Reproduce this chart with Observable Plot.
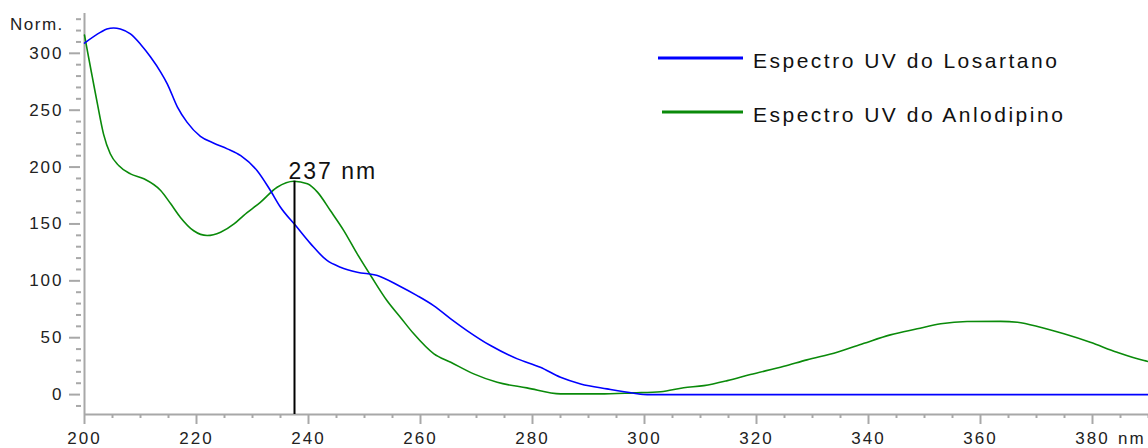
<!DOCTYPE html>
<html><head><meta charset="utf-8">
<script src="https://cdn.jsdelivr.net/npm/d3@7"></script>
<script src="https://cdn.jsdelivr.net/npm/@observablehq/plot@0.6"></script>
<style>
html,body{margin:0;padding:0;background:#fff;}
#chart svg{display:block;}
</style></head><body><div id="chart"></div>
<script>
// ---- data ----
const losartanNm  = [200, 202.9, 204, 205.2, 206.4, 208.2, 210, 211.8, 213.6, 214.8, 216.6, 218.3, 220.7, 223.1, 225.5, 227.9, 230.8, 233.2, 235, 237.7, 240.4, 243.3, 245.7, 248.7, 252.3, 256.4, 259.4, 262.4, 265.4, 268.3, 272.5, 277.3, 281.4, 285, 288.6, 293.3, 298.1, 300.5, 390];
const losartanAbs = [309, 318.6, 321.4, 322.2, 321.3, 317, 308, 296.7, 283.5, 273, 252.7, 239.5, 227, 221, 216, 210, 197, 179.4, 164.7, 148.6, 132.5, 117.9, 112, 107.6, 104.7, 95, 87, 78, 66.6, 56.3, 43.1, 31.4, 24, 15.2, 9.4, 5, 1.2, 0, 0];
const anlodipinoNm  = [200, 200.5, 201.4, 202.3, 203.4, 204.6, 206.1, 208.2, 210.6, 213.6, 215.4, 217.1, 219.5, 221.9, 224.3, 226.7, 228.4, 231.4, 234.4, 237.4, 239.8, 241.6, 243.9, 246.3, 248.7, 251.1, 254, 256.4, 258.8, 262.4, 265.4, 269.5, 273.7, 279, 285, 292, 298, 302.9, 307, 310.6, 314.8, 318.9, 324.9, 329, 334.4, 339.2, 343.9, 348.7, 352.9, 357.6, 363.6, 366.6, 370.7, 374.9, 379.6, 384.4, 389.2, 390];
const anlodipinoAbs = [316, 302.5, 279, 255.7, 229, 211.7, 201.4, 194, 189.7, 179.4, 167.7, 156, 144, 139.8, 142.7, 150, 157.4, 169, 182.3, 187.6, 185.3, 178, 161.8, 144.2, 123.7, 104.7, 82.7, 68, 53.4, 35.8, 28.4, 18.2, 10.8, 5.9, 0.6, 0.6, 1.5, 2.5, 6, 7.9, 12.3, 17.6, 24.9, 30.5, 37.2, 45.1, 52.5, 57.8, 62.2, 64.2, 64.4, 63.6, 59.2, 53.4, 46, 37.2, 29.9, 29];
const seriesNames  = ["Espectro UV do Losartano", "Espectro UV do Anlodipino"];
const seriesColors = ["#0000ff", "#0a8a0a"];
const xMajorTicks = [200, 220, 240, 260, 280, 300, 320, 340, 360, 380];
const yMajorTicks = [0, 50, 100, 150, 200, 250, 300];
const peakNm = [237.5];
const peakAbs = [187.6];
const peakLabels = ["237 nm"];
const yAxisTitle = "Norm.";
const xUnit = "nm";

// ---- derived tables ----
const losartan = losartanNm.map((nm, i) => ({nm, v: losartanAbs[i]}));
const anlodipino = anlodipinoNm.map((nm, i) => ({nm, v: anlodipinoAbs[i]}));
const peaks = peakNm.map((nm, i) => ({nm, v: peakAbs[i], label: peakLabels[i]}));
const xDomain = [200, 390];
const yDomain = [-17.5, 335];
const xMinorTicks = d3.range(205, 391, 5).filter(t => t % 20 !== 0);
const yMinorTicks = d3.range(-10, 331, 10).filter(t => t % 50 !== 0);

const gray = "#a8a8a8";
const font = "'Liberation Sans', Arial, sans-serif";

const chart = Plot.plot({
  width: 1148, height: 448,
  marginLeft: 84, marginRight: 0, marginTop: 13, marginBottom: 34,
  x: {domain: xDomain},
  y: {domain: yDomain},
  style: {fontFamily: font, fontSize: "17px", color: "#222", background: "#fff", overflow: "visible"},
  marks: [
    Plot.axisY(yMinorTicks, {tickSize: 5, dx: -3, tickFormat: () => "", stroke: gray, strokeWidth: 2, label: null}),
    Plot.axisY(yMajorTicks, {tickSize: 11, dx: -4, tickPadding: 6, stroke: gray, strokeWidth: 2, label: null, fill: "#222", fontSize: 17}),
    Plot.axisX(xMinorTicks, {tickSize: 4, tickFormat: () => "", stroke: gray, strokeWidth: 2, label: null}),
    Plot.axisX(xMajorTicks, {tickSize: 10, tickPadding: 7, stroke: gray, strokeWidth: 2, label: null, fill: "#222", fontSize: 17}),
    Plot.ruleX([xDomain[0]], {stroke: gray, strokeWidth: 2}),
    Plot.ruleY([yDomain[0]], {stroke: gray, strokeWidth: 2}),
    Plot.line(anlodipino, {x: "nm", y: "v", stroke: seriesColors[1], strokeWidth: 1.6, curve: "monotone-x"}),
    Plot.line(losartan, {x: "nm", y: "v", stroke: seriesColors[0], strokeWidth: 1.6, curve: "monotone-x"}),
    Plot.ruleX(peaks, {x: "nm", y1: () => yDomain[0], y2: "v", stroke: "#000", strokeWidth: 2}),
    Plot.text(peaks, {x: "nm", y: "v", text: "label", textAnchor: "start", lineAnchor: "bottom", dx: -6, dy: -2, fontSize: 23, fill: "#111"})
  ]
});

const svg = d3.select(chart);
svg.selectAll("g[aria-label='y-axis tick label'] text, g[aria-label='x-axis tick label'] text").style("letter-spacing", "2px");
svg.selectAll("g[aria-label='text'] text").style("letter-spacing", "2px");

// legend, axis title and unit
const over = svg.append("g").attr("font-family", font).attr("text-anchor", "start");
const legendRows = [{y: 58, x1: 658, name: seriesNames[0], color: seriesColors[0], base: 68},
                    {y: 112, x1: 662, name: seriesNames[1], color: seriesColors[1], base: 122}];
legendRows.forEach(r => {
  over.append("line").attr("x1", r.x1).attr("x2", 743).attr("y1", r.y).attr("y2", r.y)
    .attr("stroke", r.color).attr("stroke-width", 3);
  over.append("text").attr("x", 753).attr("y", r.base).attr("font-size", 21)
    .attr("text-anchor", "start")
    .style("letter-spacing", "2.5px").attr("fill", "#111").text(r.name);
});
over.append("text").attr("x", 10).attr("y", 30).attr("font-size", 17).attr("text-anchor", "start")
  .style("letter-spacing", "1.5px").attr("fill", "#222").text(yAxisTitle);
over.append("text").attr("x", 1118).attr("y", 444).attr("font-size", 17).attr("text-anchor", "start")
  .style("letter-spacing", "2px").attr("fill", "#222").text(xUnit);

document.getElementById("chart").append(chart);
</script></body></html>
